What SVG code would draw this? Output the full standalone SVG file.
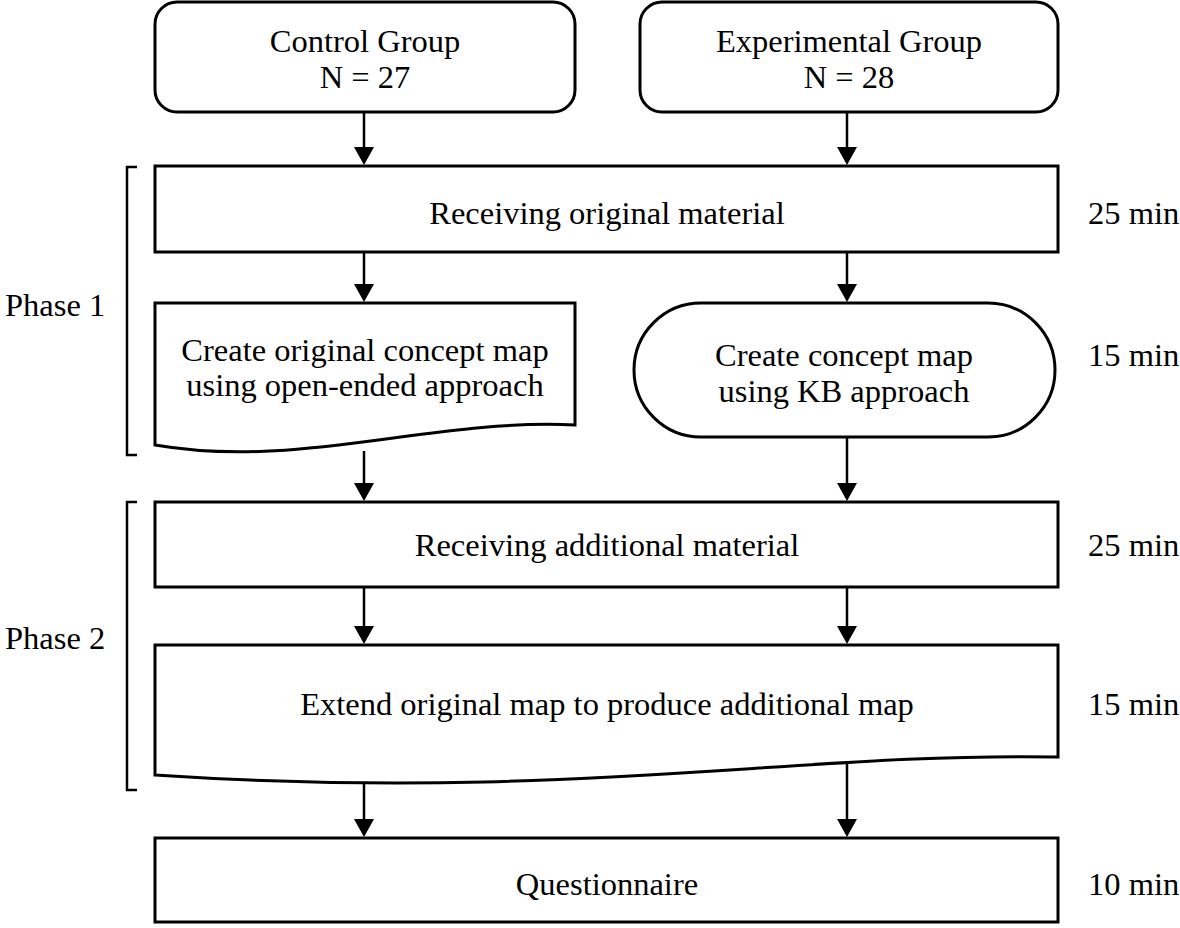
<svg xmlns="http://www.w3.org/2000/svg" width="1180" height="928" viewBox="0 0 1180 928">
<style>
.box{fill:#fff;stroke:#000;stroke-width:3}
.t{font-family:"Liberation Serif","Times New Roman",serif;font-size:32.5px;fill:#000;text-anchor:middle}
.l{font-family:"Liberation Serif","Times New Roman",serif;font-size:32.5px;fill:#000}
.c{stroke:#000;stroke-width:2.5;fill:none}
.br{stroke:#000;stroke-width:2.5;fill:none}
</style>
<defs>
<marker id="ah" markerUnits="userSpaceOnUse" markerWidth="18" markerHeight="20" refX="0" refY="10" orient="auto" viewBox="0 0 18 20">
<path d="M0,0 L18,10 L0,20 z" fill="#000"/>
</marker>
</defs>
<rect width="1180" height="928" fill="#fff"/>
<g id="control">
<rect class="box" x="155" y="2" width="420" height="110" rx="22"/>
<text class="t" x="365" y="52">Control Group</text>
<text class="t" x="365" y="88">N = 27</text>
</g>
<g id="experimental">
<rect class="box" x="640" y="2" width="418" height="110" rx="22"/>
<text class="t" x="849" y="52">Experimental Group</text>
<text class="t" x="849" y="88">N = 28</text>
</g>
<g id="recv-orig">
<rect class="box" x="155" y="166" width="903" height="86"/>
<text class="t" x="607" y="224">Receiving original material</text>
</g>
<g id="create-orig">
<path class="box" d="M155,303 H575 V425 C430,418 300,470 155,445 Z"/>
<text class="t" x="365" y="361">Create original concept map</text>
<text class="t" x="365" y="396">using open-ended approach</text>
</g>
<g id="create-kb">
<rect class="box" x="634" y="303" width="421" height="134" rx="67"/>
<text class="t" x="844" y="366">Create concept map</text>
<text class="t" x="844" y="402">using KB approach</text>
</g>
<g id="recv-add">
<rect class="box" x="155" y="502" width="903" height="85"/>
<text class="t" x="607" y="556">Receiving additional material</text>
</g>
<g id="extend">
<path class="box" d="M155,645 H1058 V757 C800,752 560,802 155,775 Z"/>
<text class="t" x="607" y="715">Extend original map to produce additional map</text>
</g>
<g id="questionnaire">
<rect class="box" x="155" y="838" width="903" height="84"/>
<text class="t" x="607" y="895">Questionnaire</text>
</g>
<g id="phase1">
<path class="br" d="M137,167 H127 V455 H137"/>
<text class="l" x="5" y="316">Phase 1</text>
</g>
<g id="phase2">
<path class="br" d="M137,502 H127 V790 H137"/>
<text class="l" x="5" y="649">Phase 2</text>
</g>
<g id="times">
<text class="l" x="1088" y="224">25 min</text>
<text class="l" x="1088" y="366">15 min</text>
<text class="l" x="1088" y="556">25 min</text>
<text class="l" x="1088" y="715">15 min</text>
<text class="l" x="1088" y="895">10 min</text>
</g>
<g id="connectors">
<line class="c" x1="364" y1="112" x2="364" y2="147" marker-end="url(#ah)"/>
<line class="c" x1="847" y1="112" x2="847" y2="147" marker-end="url(#ah)"/>
<line class="c" x1="364" y1="252" x2="364" y2="284" marker-end="url(#ah)"/>
<line class="c" x1="847" y1="252" x2="847" y2="284" marker-end="url(#ah)"/>
<line class="c" x1="364" y1="451" x2="364" y2="483" marker-end="url(#ah)"/>
<line class="c" x1="847" y1="437" x2="847" y2="483" marker-end="url(#ah)"/>
<line class="c" x1="364" y1="587" x2="364" y2="626" marker-end="url(#ah)"/>
<line class="c" x1="847" y1="587" x2="847" y2="626" marker-end="url(#ah)"/>
<line class="c" x1="364" y1="783" x2="364" y2="819" marker-end="url(#ah)"/>
<line class="c" x1="847" y1="762" x2="847" y2="819" marker-end="url(#ah)"/>
</g>
</svg>
